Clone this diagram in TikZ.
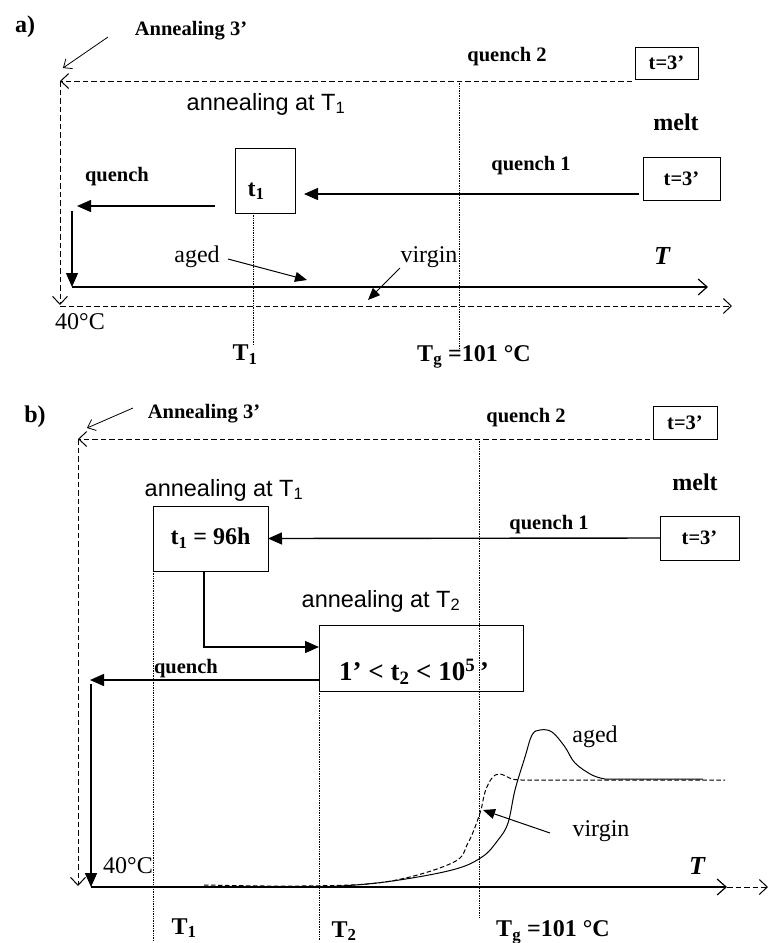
\documentclass[tikz,border=0pt]{standalone}
\usepackage{fontspec}
\setmainfont{Liberation Serif}
\setsansfont{Liberation Sans}
\usetikzlibrary{arrows.meta}
\begin{document}
\begin{tikzpicture}[x=1pt,y=-1pt,
 every node/.style={inner sep=0pt, outer sep=0pt},
 lab/.style={font=\fontsize{20.5}{22}\selectfont\bfseries},
 big/.style={font=\fontsize{24}{26}\selectfont},
 bigb/.style={font=\fontsize{24}{26}\selectfont\bfseries},
 tit/.style={font=\fontsize{26}{28}\selectfont\bfseries\itshape},
 sans/.style={font=\fontsize{23.5}{25}\selectfont\sffamily},
 box/.style={draw, line width=0.9pt},
 dsh/.style={line width=0.9pt, dash pattern=on 5.5pt off 3pt},
 dot/.style={line width=0.6pt, dash pattern=on 0.8pt off 0.9pt},
 solidarrow/.style={line width=1.4pt, -{Triangle[length=14pt,width=12pt]}},
 thinarrow/.style={line width=1pt, -{Triangle[length=12pt,width=10pt]}},
 openarrow/.style={-{Straight Barb[length=8pt,width=15pt,line width=1pt]}},
 axisarrow/.style={line width=1.4pt, -{Straight Barb[length=9pt,width=16pt,line width=1.2pt]}},
 callout/.style={line width=0.8pt, -{Straight Barb[length=7pt,width=12pt,line width=0.8pt]}},
]
\useasboundingbox (0,0) rectangle (770,943);

% ================= a) =================
\node[bigb] (la) at (25,27) {a)};
\node[lab] (ann1) at (191,31) {Annealing 3’};
\coordinate (ann1s) at (108,37);
\coordinate (ann1e) at (63,68);
\draw[callout] (ann1s) -- (ann1e);

\node[box, lab, minimum width=63pt, minimum height=32pt] (ta1) at (666.5,63) {t=3’};
\node[lab] (q2a) at (507,57) {quench 2};
\coordinate (a1) at (632,81);
\coordinate (a2) at (60,81);
\coordinate (a3) at (60,305);
\coordinate (a4) at (60,306);
\coordinate (a5) at (732,306);
\draw[dsh, openarrow] (a1) -- (a2);
\draw[dsh, openarrow] (a2) -- (a3);
\draw[dsh, openarrow] (a4) -- (a5);

\coordinate (tga1) at (459,81);
\coordinate (tga2) at (459,348);
\draw[dot] (tga1) -- (tga2);

\node[bigb] (melta) at (676,122) {melt};
\node[box, lab, minimum width=77pt, minimum height=43pt] (ta2) at (681.5,178.5) {t=3’};
\node[lab] (q1a) at (531,166) {quench 1};
\node[sans] (anna) at (266,104) {annealing at T\textsubscript{1}};
\node[box, bigb, minimum width=60pt, minimum height=65pt, text height=31pt, text depth=0pt] (t1a) at (265,180.5) {t\textsubscript{1}\kern18pt};
\coordinate (q1as) at (639,194);
\coordinate (q1ae) at (304,194);
\draw[solidarrow] (q1as) -- (q1ae);

\coordinate (t1d1) at (253,213);
\coordinate (t1d2) at (253,345);
\draw[dot] (t1d1) -- (t1d2);

\node[lab] (qa) at (117,177) {quench};
\coordinate (qas) at (215,206);
\coordinate (qae) at (77,206);
\draw[solidarrow] (qas) -- (qae);
\coordinate (va1) at (72,211);
\coordinate (va2) at (72,287);
\draw[solidarrow] (va1) -- (va2);
\coordinate (ax1) at (72,287);
\coordinate (ax2) at (708,287);
\draw[axisarrow] (ax1) -- (ax2);

\node[big] (aged1) at (197,257) {aged};
\coordinate (ag1) at (228,259);
\coordinate (ag2) at (307,280);
\draw[thinarrow] (ag1) -- (ag2);
\node[big] (virg1) at (429,257) {virgin};
\coordinate (vg1) at (400,268);
\coordinate (vg2) at (368,300);
\draw[thinarrow] (vg1) -- (vg2);
\node[tit] (Ta) at (662,256) {T};
\node[big] (fa) at (80,322) {40°C};
\node[bigb] (T1a) at (245,355) {T\textsubscript{1}};
\node[bigb] (Tga) at (474,357) {T\textsubscript{g} =101 °C};

% ================= b) =================
\node[bigb] (lb) at (35,417) {b)};
\node[lab] (ann2) at (204,414) {Annealing 3’};
\coordinate (ann2s) at (133,408);
\coordinate (ann2e) at (87,428);
\draw[callout] (ann2s) -- (ann2e);

\node[box, lab, minimum width=64pt, minimum height=33pt] (tb1) at (685,422.5) {t=3’};
\node[lab] (q2b) at (526,418) {quench 2};
\coordinate (b1) at (650,439);
\coordinate (b2) at (78,439);
\coordinate (b3) at (78,886);
\draw[dsh, openarrow] (b1) -- (b2);
\draw[dsh, openarrow] (b2) -- (b3);

\node[bigb] (meltb) at (695,482) {melt};
\node[sans] (annb1) at (224,490) {annealing at T\textsubscript{1}};
\node[box, bigb, minimum width=115pt, minimum height=65pt] (tb2) at (210.5,538.5) {t\textsubscript{1} = 96h};
\node[box, lab, minimum width=79pt, minimum height=44pt] (tb3) at (699.5,538) {t=3’};
\node[lab] (q1b) at (549,525) {quench 1};
\draw[solidarrow] (tb3.west) -- (tb2.east);

\node[sans] (annb2) at (381,601) {annealing at T\textsubscript{2}};
\node[box, font=\fontsize{27}{29}\selectfont\bfseries, minimum width=204pt, minimum height=66pt, text height=45pt, text depth=0pt] (tb4) at (421,658) {1’ < t\textsubscript{2} < 10\textsuperscript{5}\,’\kern14pt};
\draw[solidarrow] ([xshift=-6.5pt]tb2.south) |- ([yshift=11pt]tb4.west);

\coordinate (tgb1) at (479,439);
\coordinate (tgb2) at (479,918);
\draw[dot] (tgb1) -- (tgb2);
\coordinate (t1b2) at (153,940);
\draw[dot] (tb2.south west) -- (t1b2);
\coordinate (t2b2) at (319,940);
\draw[dot] (tb4.south west) -- (t2b2);

\node[lab] (qb) at (186,669) {quench};
\coordinate (qbe) at (90,680);
\draw[solidarrow] ([yshift=-22pt]tb4.west) -- (qbe);
\coordinate (vb1) at (91,684);
\coordinate (vb2) at (91,887);
\draw[solidarrow] (vb1) -- (vb2);
\coordinate (bx1) at (91,887);
\coordinate (bx2) at (727,887);
\coordinate (bx3) at (768,887);
\draw[axisarrow] (bx1) -- (bx2);
\draw[dsh, openarrow] (bx2) -- (bx3);

% curves
\draw[line width=1pt, dash pattern=on 4.5pt off 2.5pt] plot[smooth, tension=0.6] coordinates {(204,885) (300,886) (385,882) (452,863) (468,843) (480,813) (485,792) (492,778) (500,774) (512,779) (522,780)} -- (725,780);
\draw[line width=1pt] plot[smooth, tension=0.6] coordinates {(260,887) (320,887) (385,882) (452,870) (482,857) (498,840) (508,823) (515,790) (525,757) (532,735) (540,730) (552,732) (565,747) (575,763) (592,775) (605,779)} -- (703,779);

\node[big] (fb) at (128,866) {40°C};
\node[bigb] (T1b) at (184,928) {T\textsubscript{1}};
\node[bigb] (T2b) at (344,931) {T\textsubscript{2}};
\node[bigb] (Tgb) at (553,932) {T\textsubscript{g} =101 °C};
\node[tit] (Tb) at (697,866) {T};
\node[big] (agedb) at (595,737) {aged};
\node[big] (virgb) at (601,831) {virgin};
\coordinate (vgb1) at (550,833);
\coordinate (vgb2) at (483,810);
\draw[thinarrow] (vgb1) -- (vgb2);
\end{tikzpicture}
\end{document}
